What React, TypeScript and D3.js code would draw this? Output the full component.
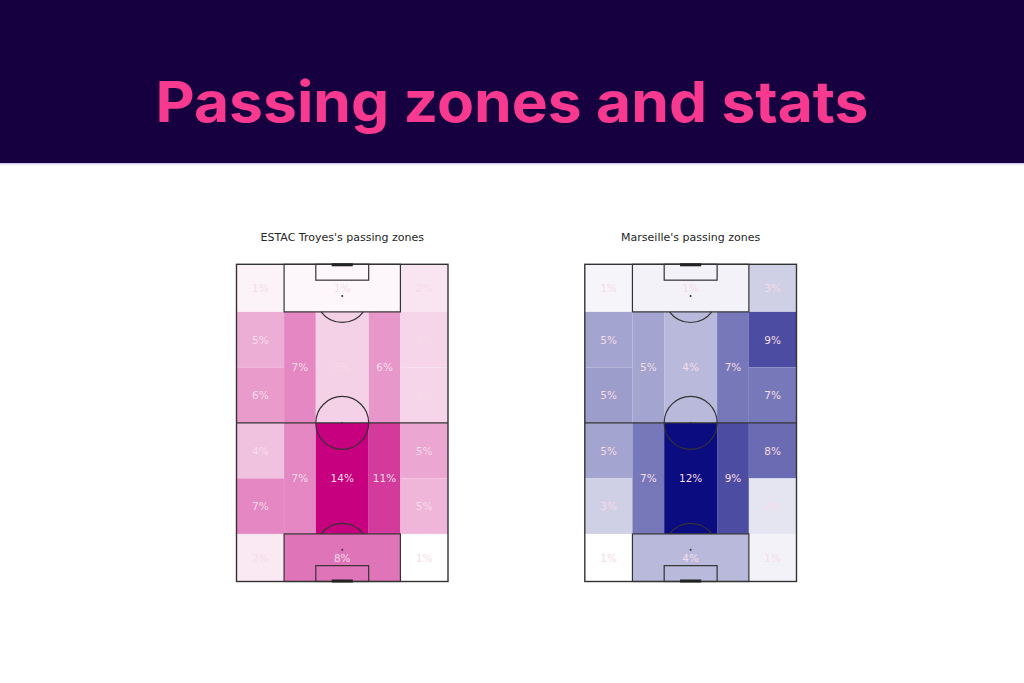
import React, { useEffect } from "react";
import * as d3 from "d3";

// ---- Data ----
const zones = [
  "TL", "TB", "TR",
  "UL1", "UL2", "ULH", "UC", "URH", "UR1", "UR2",
  "LL1", "LL2", "LLH", "LC", "LRH", "LR1", "LR2",
  "BL", "BB", "BR",
];
const teams = ["ESTAC Troyes", "Marseille"];
// share of passes (%) per zone
const troyesValues = [
  1.4, 1.2, 2.2,
  5.0, 6.0, 7.0, 3.2, 6.2, 3.0, 3.0,
  4.0, 7.0, 7.0, 14.0, 11.0, 5.4, 4.6,
  2.0, 8.0, 0.8,
];
const marseilleValues = [
  1.2, 1.4, 3.0,
  5.0, 5.3, 5.0, 4.0, 7.0, 9.0, 7.0,
  5.0, 3.0, 7.0, 12.0, 9.0, 7.6, 2.0,
  0.8, 4.0, 1.4,
];
const teamColors = ["#c6007e", "#0a0c80"];
const title = "Passing zones and stats";

// ---- Pitch geometry (StatsBomb units, vertical) ----
const PW = 80;
const PL = 120;
const colEdges = [0, 18, 30, 50, 62, 80];
const rowEdges = [0, 18, 39, 60, 81, 102, 120];
const zoneSpan: Record<string, [number, number, number, number]> = {
  TL: [0, 1, 0, 1], TB: [1, 4, 0, 1], TR: [4, 5, 0, 1],
  UL1: [0, 1, 1, 2], UL2: [0, 1, 2, 3], ULH: [1, 2, 1, 3], UC: [2, 3, 1, 3],
  URH: [3, 4, 1, 3], UR1: [4, 5, 1, 2], UR2: [4, 5, 2, 3],
  LL1: [0, 1, 3, 4], LL2: [0, 1, 4, 5], LLH: [1, 2, 3, 5], LC: [2, 3, 3, 5],
  LRH: [3, 4, 3, 5], LR1: [4, 5, 3, 4], LR2: [4, 5, 4, 5],
  BL: [0, 1, 5, 6], BB: [1, 4, 5, 6], BR: [4, 5, 5, 6],
};

const LINE = "#333333";

function Pitch({ x0, x1, y0, y1, values, color, name }: any) {
  const xs = d3.scaleLinear().domain([0, PW]).range([x0, x1]);
  const ys = d3.scaleLinear().domain([0, PL]).range([y0, y1]);
  const cs = d3
    .scaleLinear<string>()
    .domain([d3.min(values as number[])!, d3.max(values as number[])!])
    .range(["#ffffff", color])
    .interpolate(d3.interpolateRgb);
  const r = (u: number) => xs(u) - xs(0);
  const arcTop = d3.arc()({
    innerRadius: r(10),
    outerRadius: r(10),
    startAngle: Math.PI - Math.acos(6 / 10),
    endAngle: Math.PI + Math.acos(6 / 10),
  } as any);
  const arcBot = d3.arc()({
    innerRadius: r(10),
    outerRadius: r(10),
    startAngle: -Math.acos(6 / 10),
    endAngle: Math.acos(6 / 10),
  } as any);
  return (
    <g>
      <text
        x={(x0 + x1) / 2}
        y={y0 - 23}
        textAnchor="middle"
        fontFamily="DejaVu Sans"
        fontSize={11}
        fill="#262626"
      >
        {name}'s passing zones
      </text>
      {zones.map((z, i) => {
        const [c0, c1, r0, r1] = zoneSpan[z];
        const xa = xs(colEdges[c0]);
        const xb = xs(colEdges[c1]);
        const ya = ys(rowEdges[r0]);
        const yb = ys(rowEdges[r1]);
        return (
          <rect key={z} x={xa} y={ya} width={xb - xa} height={yb - ya} fill={cs(values[i])} />
        );
      })}
      {/* pitch markings */}
      <g fill="none" stroke={LINE} strokeWidth={1.2}>
        <rect x={xs(0)} y={ys(0)} width={xs(PW) - xs(0)} height={ys(PL) - ys(0)} strokeWidth={1.4} />
        <line x1={xs(0)} x2={xs(PW)} y1={ys(60)} y2={ys(60)} />
        <circle cx={xs(40)} cy={ys(60)} r={r(10)} />
        <rect x={xs(18)} y={ys(0)} width={xs(62) - xs(18)} height={ys(18) - ys(0)} />
        <rect x={xs(30)} y={ys(0)} width={xs(50) - xs(30)} height={ys(6) - ys(0)} />
        <rect x={xs(18)} y={ys(102)} width={xs(62) - xs(18)} height={ys(120) - ys(102)} />
        <rect x={xs(30)} y={ys(114)} width={xs(50) - xs(30)} height={ys(120) - ys(114)} />
        <path d={arcTop!} transform={`translate(${xs(40)},${ys(12)})`} />
        <path d={arcBot!} transform={`translate(${xs(40)},${ys(108)})`} />
      </g>
      <g fill={LINE}>
        <circle cx={xs(40)} cy={ys(12)} r={1} />
        <circle cx={xs(40)} cy={ys(108)} r={1} />
        <circle cx={xs(40)} cy={ys(60)} r={0.8} />
      </g>
      <g stroke="#222" strokeWidth={3}>
        <line x1={xs(36)} x2={xs(44)} y1={ys(0) + 0.5} y2={ys(0) + 0.5} />
        <line x1={xs(36)} x2={xs(44)} y1={ys(PL) - 0.5} y2={ys(PL) - 0.5} />
      </g>
      {zones.map((z, i) => {
        const [c0, c1, r0, r1] = zoneSpan[z];
        const cx = (xs(colEdges[c0]) + xs(colEdges[c1])) / 2;
        const cy = (ys(rowEdges[r0]) + ys(rowEdges[r1])) / 2;
        return (
          <text
            key={z}
            x={cx}
            y={cy}
            textAnchor="middle"
            dominantBaseline="central"
            fontFamily="DejaVu Sans"
            fontSize={10.5}
            fill="#f6dbe8"
          >
            {Math.round(values[i])}%
          </text>
        );
      })}
    </g>
  );
}

export default function App() {
  useEffect(() => {
    document.body.style.margin = "0";
  }, []);
  return (
    <svg
      width={1024}
      height={683}
      style={{ position: "absolute", left: 0, top: 0, display: "block" }}
    >
      <rect x={0} y={0} width={1024} height={683} fill="#ffffff" />
      <rect x={0} y={0} width={1024} height={163} fill="#170040" />
      <rect x={0} y={163} width={1024} height={1.5} fill="#d4cdef" />
      <text
        x={512}
        y={122}
        textAnchor="middle"
        fontFamily="Inter"
        fontWeight={700}
        fontSize={56}
        fill="#f7398f"
        textLength={713}
        lengthAdjust="spacingAndGlyphs"
      >
        {title}
      </text>
      <Pitch x0={236.5} x1={448} y0={264.3} y1={581.5} values={troyesValues} color={teamColors[0]} name={teams[0]} />
      <Pitch x0={584.8} x1={796.5} y0={264.3} y1={581.5} values={marseilleValues} color={teamColors[1]} name={teams[1]} />
    </svg>
  );
}
